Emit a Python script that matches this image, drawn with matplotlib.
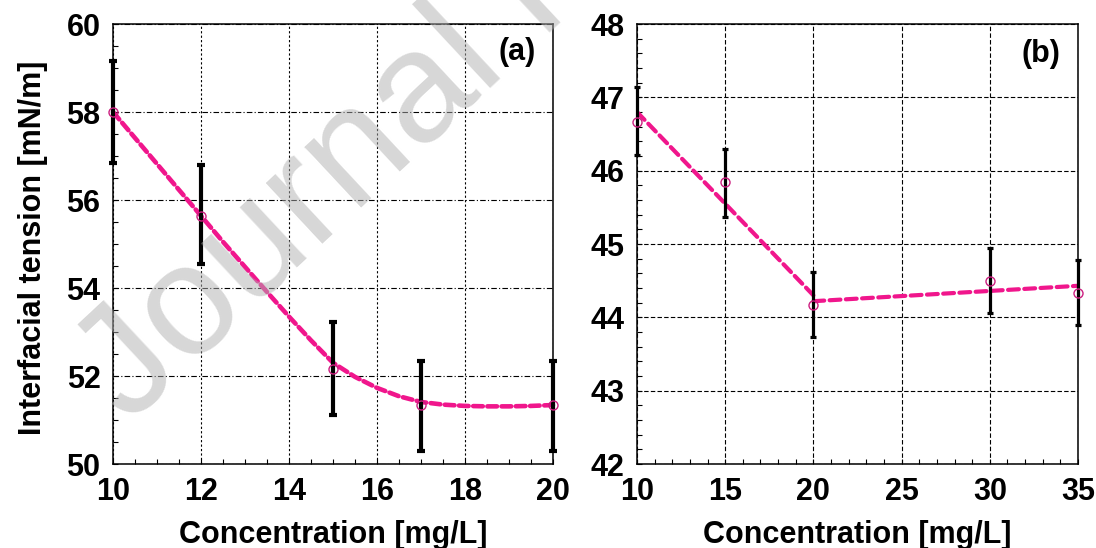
import numpy as np
import matplotlib
matplotlib.use("Agg")
import matplotlib.pyplot as plt

# -----------------------------
# Data
# -----------------------------
# (a) left panel
conc_a = [10, 12, 15, 17, 20]
ift_a = [58.00, 55.64, 52.16, 51.33, 51.34]
err_lo_a = [56.84, 54.55, 51.12, 50.30, 50.30]
err_hi_a = [59.16, 56.80, 53.22, 52.35, 52.35]

# fitted curve (a)
fit_x_a = [10, 10.5, 11, 11.5, 12, 12.5, 13, 13.5, 14, 14.5, 15, 15.5, 16,
           16.5, 17, 17.5, 18, 18.5, 19, 19.5, 20]
fit_y_a = [58.00, 57.41, 56.82, 56.23, 55.64, 55.05, 54.48, 53.91, 53.35,
           52.81, 52.30, 51.98, 51.73, 51.54, 51.41, 51.35, 51.32, 51.31,
           51.31, 51.32, 51.34]

# (b) right panel
conc_b = [10, 15, 20, 30, 35]
ift_b = [46.67, 45.84, 44.17, 44.50, 44.33]
err_lo_b = [46.21, 45.37, 43.73, 44.06, 43.89]
err_hi_b = [47.14, 46.30, 44.62, 44.94, 44.78]

# two linear fits (b)
fit1_x_b = [10, 20]
fit1_y_b = [46.80, 44.30]
fit2_x_b = [20, 35]
fit2_y_b = [44.22, 44.43]

pink = '#f0168c'
mark = '#cc1f80'
font = 'Liberation Sans'
fs = 22

plt.rcParams['font.family'] = [font, 'DejaVu Sans']
plt.rcParams['font.weight'] = 'bold'

fig = plt.figure(figsize=(10.96, 5.48), dpi=100)
ax1 = fig.add_axes([113 / 1096, 84 / 548, 440 / 1096, 440 / 548])
ax2 = fig.add_axes([637 / 1096, 84 / 548, 441 / 1096, 440 / 548])


def style(ax):
    for s in ax.spines.values():
        s.set_linewidth(1.1)
    ax.tick_params(which='both', direction='in', top=False, right=False,
                   length=3.6, width=0.8, labelsize=fs)
    ax.tick_params(axis='x', pad=9.5)
    ax.tick_params(axis='y', pad=9)
    for lab in ax.get_xticklabels() + ax.get_yticklabels():
        lab.set_fontweight('bold')


# -----------------------------
# Panel (a)
# -----------------------------
ya = np.array(ift_a)
ax1.plot(fit_x_a, fit_y_a, color=pink, lw=3.3, ls=(0, (2.1, 1.0)),
         dash_capstyle='round', zorder=3, clip_on=False)
ax1.errorbar(conc_a, ift_a,
             yerr=[ya - np.array(err_lo_a), np.array(err_hi_a) - ya],
             fmt='none', ecolor='black', elinewidth=3.0, capsize=2.8,
             capthick=3.0, zorder=4, clip_on=False)
ax1.plot(conc_a, ift_a, 'o', ms=6.5, mfc='none', mec=mark, mew=1.0,
         zorder=5, clip_on=False)
ax1.set_xlim(10, 20)
ax1.set_ylim(50, 60)
ax1.set_xticks(np.arange(10, 21, 2))
ax1.set_yticks(np.arange(50, 61, 2))
ax1.set_xticks(np.arange(10, 20.01, 0.5), minor=True)
ax1.set_yticks(np.arange(50, 60.01, 0.5), minor=True)
ax1.xaxis.grid(True, color='black', lw=0.8, ls=(0, (2, 2)))
ax1.yaxis.grid(True, color='black', lw=0.8, ls=(0, (5, 2, 1, 2)))
style(ax1)
ax1.set_xlabel('Concentration [mg/L]', fontsize=fs, fontweight='bold')
ax1.set_ylabel('Interfacial tension [mN/m]', fontsize=fs, fontweight='bold')
ax1.xaxis.set_label_coords(0.5, -0.127)
ax1.yaxis.set_label_coords(-0.147, 0.492)
ax1.text(0.918, 0.936, '(a)', transform=ax1.transAxes, fontsize=fs,
         fontweight='bold', ha='center', va='center')

# -----------------------------
# Panel (b)
# -----------------------------
yb = np.array(ift_b)
ax2.plot(fit1_x_b, fit1_y_b, color=pink, lw=3.0, ls=(0, (2.6, 1.3)),
         dash_capstyle='round', zorder=3)
ax2.plot(fit2_x_b, fit2_y_b, color=pink, lw=3.0, ls=(0, (2.6, 1.3)),
         dash_capstyle='round', zorder=3)
ax2.errorbar(conc_b, ift_b,
             yerr=[yb - np.array(err_lo_b), np.array(err_hi_b) - yb],
             fmt='none', ecolor='black', elinewidth=2.3, capsize=2.3,
             capthick=2.3, zorder=4, clip_on=False)
ax2.plot(conc_b, ift_b, 'o', ms=6.5, mfc='none', mec=mark, mew=1.0,
         zorder=5, clip_on=False)
ax2.set_xlim(10, 35)
ax2.set_ylim(42, 48)
ax2.set_xticks(np.arange(10, 36, 5))
ax2.set_yticks(np.arange(42, 49, 1))
ax2.set_xticks(np.arange(10, 35.01, 1), minor=True)
ax2.set_yticks(np.arange(42, 48.01, 0.2), minor=True)
ax2.grid(True, which='major', color='black', lw=0.8, ls=(0, (4, 2)))
style(ax2)
ax2.set_xlabel('Concentration [mg/L]', fontsize=fs, fontweight='bold')
ax2.xaxis.set_label_coords(0.5, -0.127)
ax2.text(0.916, 0.932, '(b)', transform=ax2.transAxes, fontsize=fs,
         fontweight='bold', ha='center', va='center')

# watermark
fig.text(128 / 1096, 1 - 425 / 548, 'Journal Pre-proof', fontsize=114,
         color='#b0b0b0', alpha=0.5, rotation=43, rotation_mode='anchor',
         ha='left', va='baseline', fontweight='normal', zorder=10)

fig.savefig('out.png', dpi=100)
